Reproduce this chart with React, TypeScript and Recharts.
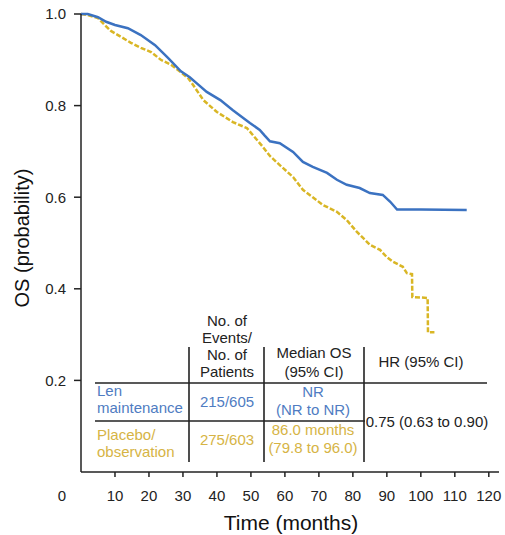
import React from 'react';
import { LineChart, Line, XAxis, YAxis } from 'recharts';

// Kaplan-Meier OS estimates (months, probability)
const lenTime = [0, 2, 5, 7.4, 10, 13.8, 17.6, 21.8, 25.6, 29.4, 32, 34, 37, 41, 44.7, 49.7, 52.6, 54, 55.6, 58.5, 62.4, 65.3, 68.2, 72.4, 75.3, 78.2, 82, 85, 88.8, 91, 93, 100, 113.5];
const lenSurv = [1.0, 1.0, 0.993, 0.983, 0.976, 0.969, 0.954, 0.932, 0.904, 0.875, 0.862, 0.849, 0.83, 0.812, 0.79, 0.762, 0.747, 0.735, 0.722, 0.718, 0.699, 0.677, 0.666, 0.653, 0.638, 0.627, 0.62, 0.609, 0.605, 0.59, 0.573, 0.573, 0.572];

const placeboTime = [0, 2, 5, 7, 8.8, 11.8, 14.7, 17.6, 20.6, 23.5, 26.5, 29.4, 31.5, 33, 36, 40, 44.7, 48.8, 51.8, 53.5, 55.6, 58.5, 62.4, 65.3, 68.2, 71.2, 75.3, 78.2, 81.2, 83, 85, 88, 90, 91.8, 94.7, 95.9, 97.4, 97.5, 102, 102.1, 104];
const placeboSurv = [1.0, 0.998, 0.991, 0.976, 0.963, 0.95, 0.937, 0.926, 0.917, 0.9, 0.889, 0.873, 0.86, 0.845, 0.812, 0.786, 0.764, 0.751, 0.725, 0.71, 0.69, 0.67, 0.644, 0.616, 0.6, 0.583, 0.568, 0.55, 0.524, 0.511, 0.496, 0.485, 0.469, 0.459, 0.448, 0.434, 0.432, 0.382, 0.38, 0.305, 0.305];

const xTicks = [0, 10, 20, 30, 40, 50, 60, 70, 80, 90, 100, 110, 120];
const yTicks = [0.2, 0.4, 0.6, 0.8, 1.0];

const lenData = lenTime.map((t, i) => ({ t, s: lenSurv[i] }));
const placeboData = placeboTime.map((t, i) => ({ t, s: placeboSurv[i] }));

const BLUE = '#3b72c1';
const GOLD = '#d9b625';
const BLUE_TXT = '#4f7cc2';
const GOLD_TXT = '#d6b445';
const FONT = '"Liberation Sans", Arial, sans-serif';

const XTick = ({ x, y, payload }: any) => {
  const v = payload.value;
  return (
    <g>
      {v !== 0 && <line x1={x} x2={x} y1={y - 18} y2={y - 13} stroke="#222" strokeWidth={1.5} />}
      <text x={v === 0 ? x - 19 : x} y={y} dy="0.71em" textAnchor="middle" fontSize={15} fill="#222" fontFamily={FONT}>
        {v}
      </text>
    </g>
  );
};

const T = ({ x, y, c = '#222', a = 'middle', children }: any) => (
  <text x={x} y={y} fill={c} textAnchor={a} fontSize={15} fontFamily={FONT}>{children}</text>
);

const App = () => {
  return (
    <div style={{ position: 'absolute', left: 0, top: 0, width: 505, height: 535, background: '#fff' }}>
      <LineChart width={505} height={535} margin={{ top: 14, right: 6, bottom: 0, left: 21 }}>
        <XAxis
          type="number"
          dataKey="t"
          domain={[0, 123]}
          ticks={xTicks}
          allowDuplicatedCategory={false}
          height={63}
          tickLine={false}
          tickSize={5}
          tickMargin={13}
          tick={<XTick />}
          axisLine={{ stroke: '#222', strokeWidth: 1.5 }}
        />
        <YAxis
          type="number"
          dataKey="s"
          domain={[0, 1]}
          ticks={yTicks}
          width={60}
          tickSize={7}
          tickMargin={8}
          tickFormatter={(v) => Number(v).toFixed(1)}
          tick={{ fontSize: 15, fill: '#222', fontFamily: FONT }}
          tickLine={{ stroke: '#222', strokeWidth: 1.5 }}
          axisLine={{ stroke: '#222', strokeWidth: 1.5 }}
        />
        <Line data={placeboData} dataKey="s" type="linear" stroke={GOLD} strokeWidth={2.5} strokeDasharray="5 2" dot={false} isAnimationActive={false} />
        <Line data={lenData} dataKey="s" type="linear" stroke={BLUE} strokeWidth={2.5} dot={false} isAnimationActive={false} />
      </LineChart>

      <svg width={505} height={535} style={{ position: 'absolute', left: 0, top: 0, pointerEvents: 'none' }}>
        {/* axis titles */}
        <text x={22} y={238} transform="rotate(-90 22 238)" textAnchor="middle" dominantBaseline="central" fontSize={20} fill="#111" fontFamily={FONT}>
          OS (probability)
        </text>
        <text x={291} y={530} textAnchor="middle" fontSize={21} fill="#111" fontFamily={FONT}>
          Time (months)
        </text>

        {/* table rules */}
        <g stroke="#222" strokeWidth={1.6}>
          <line x1={95} x2={487} y1={383} y2={383} />
          <line x1={95} x2={365} y1={421} y2={421} />
          <line x1={189} x2={189} y1={347} y2={462} />
          <line x1={264} x2={264} y1={347} y2={462} />
          <line x1={364} x2={364} y1={347} y2={462} />
        </g>

        {/* header */}
        <T x={227} y={326}>No. of</T>
        <T x={227} y={343}>Events/</T>
        <T x={227} y={360}>No. of</T>
        <T x={227} y={377}>Patients</T>
        <T x={314} y={358}>Median OS</T>
        <T x={314} y={377}>(95% CI)</T>
        <T x={421} y={367}>HR (95% CI)</T>

        {/* Len row */}
        <T x={97} y={396} a="start" c={BLUE_TXT}>Len</T>
        <T x={97} y={413} a="start" c={BLUE_TXT}>maintenance</T>
        <T x={227} y={407} c={BLUE_TXT}>215/605</T>
        <T x={313} y={397} c={BLUE_TXT}>NR</T>
        <T x={313} y={415} c={BLUE_TXT}>(NR to NR)</T>

        {/* Placebo row */}
        <T x={97} y={440} a="start" c={GOLD_TXT}>Placebo/</T>
        <T x={97} y={457} a="start" c={GOLD_TXT}>observation</T>
        <T x={227} y={445} c={GOLD_TXT}>275/603</T>
        <T x={313} y={435} c={GOLD_TXT}>86.0 months</T>
        <T x={313} y={453} c={GOLD_TXT}>(79.8 to 96.0)</T>

        <T x={427} y={427}>0.75 (0.63 to 0.90)</T>
      </svg>
    </div>
  );
};

export default App;
